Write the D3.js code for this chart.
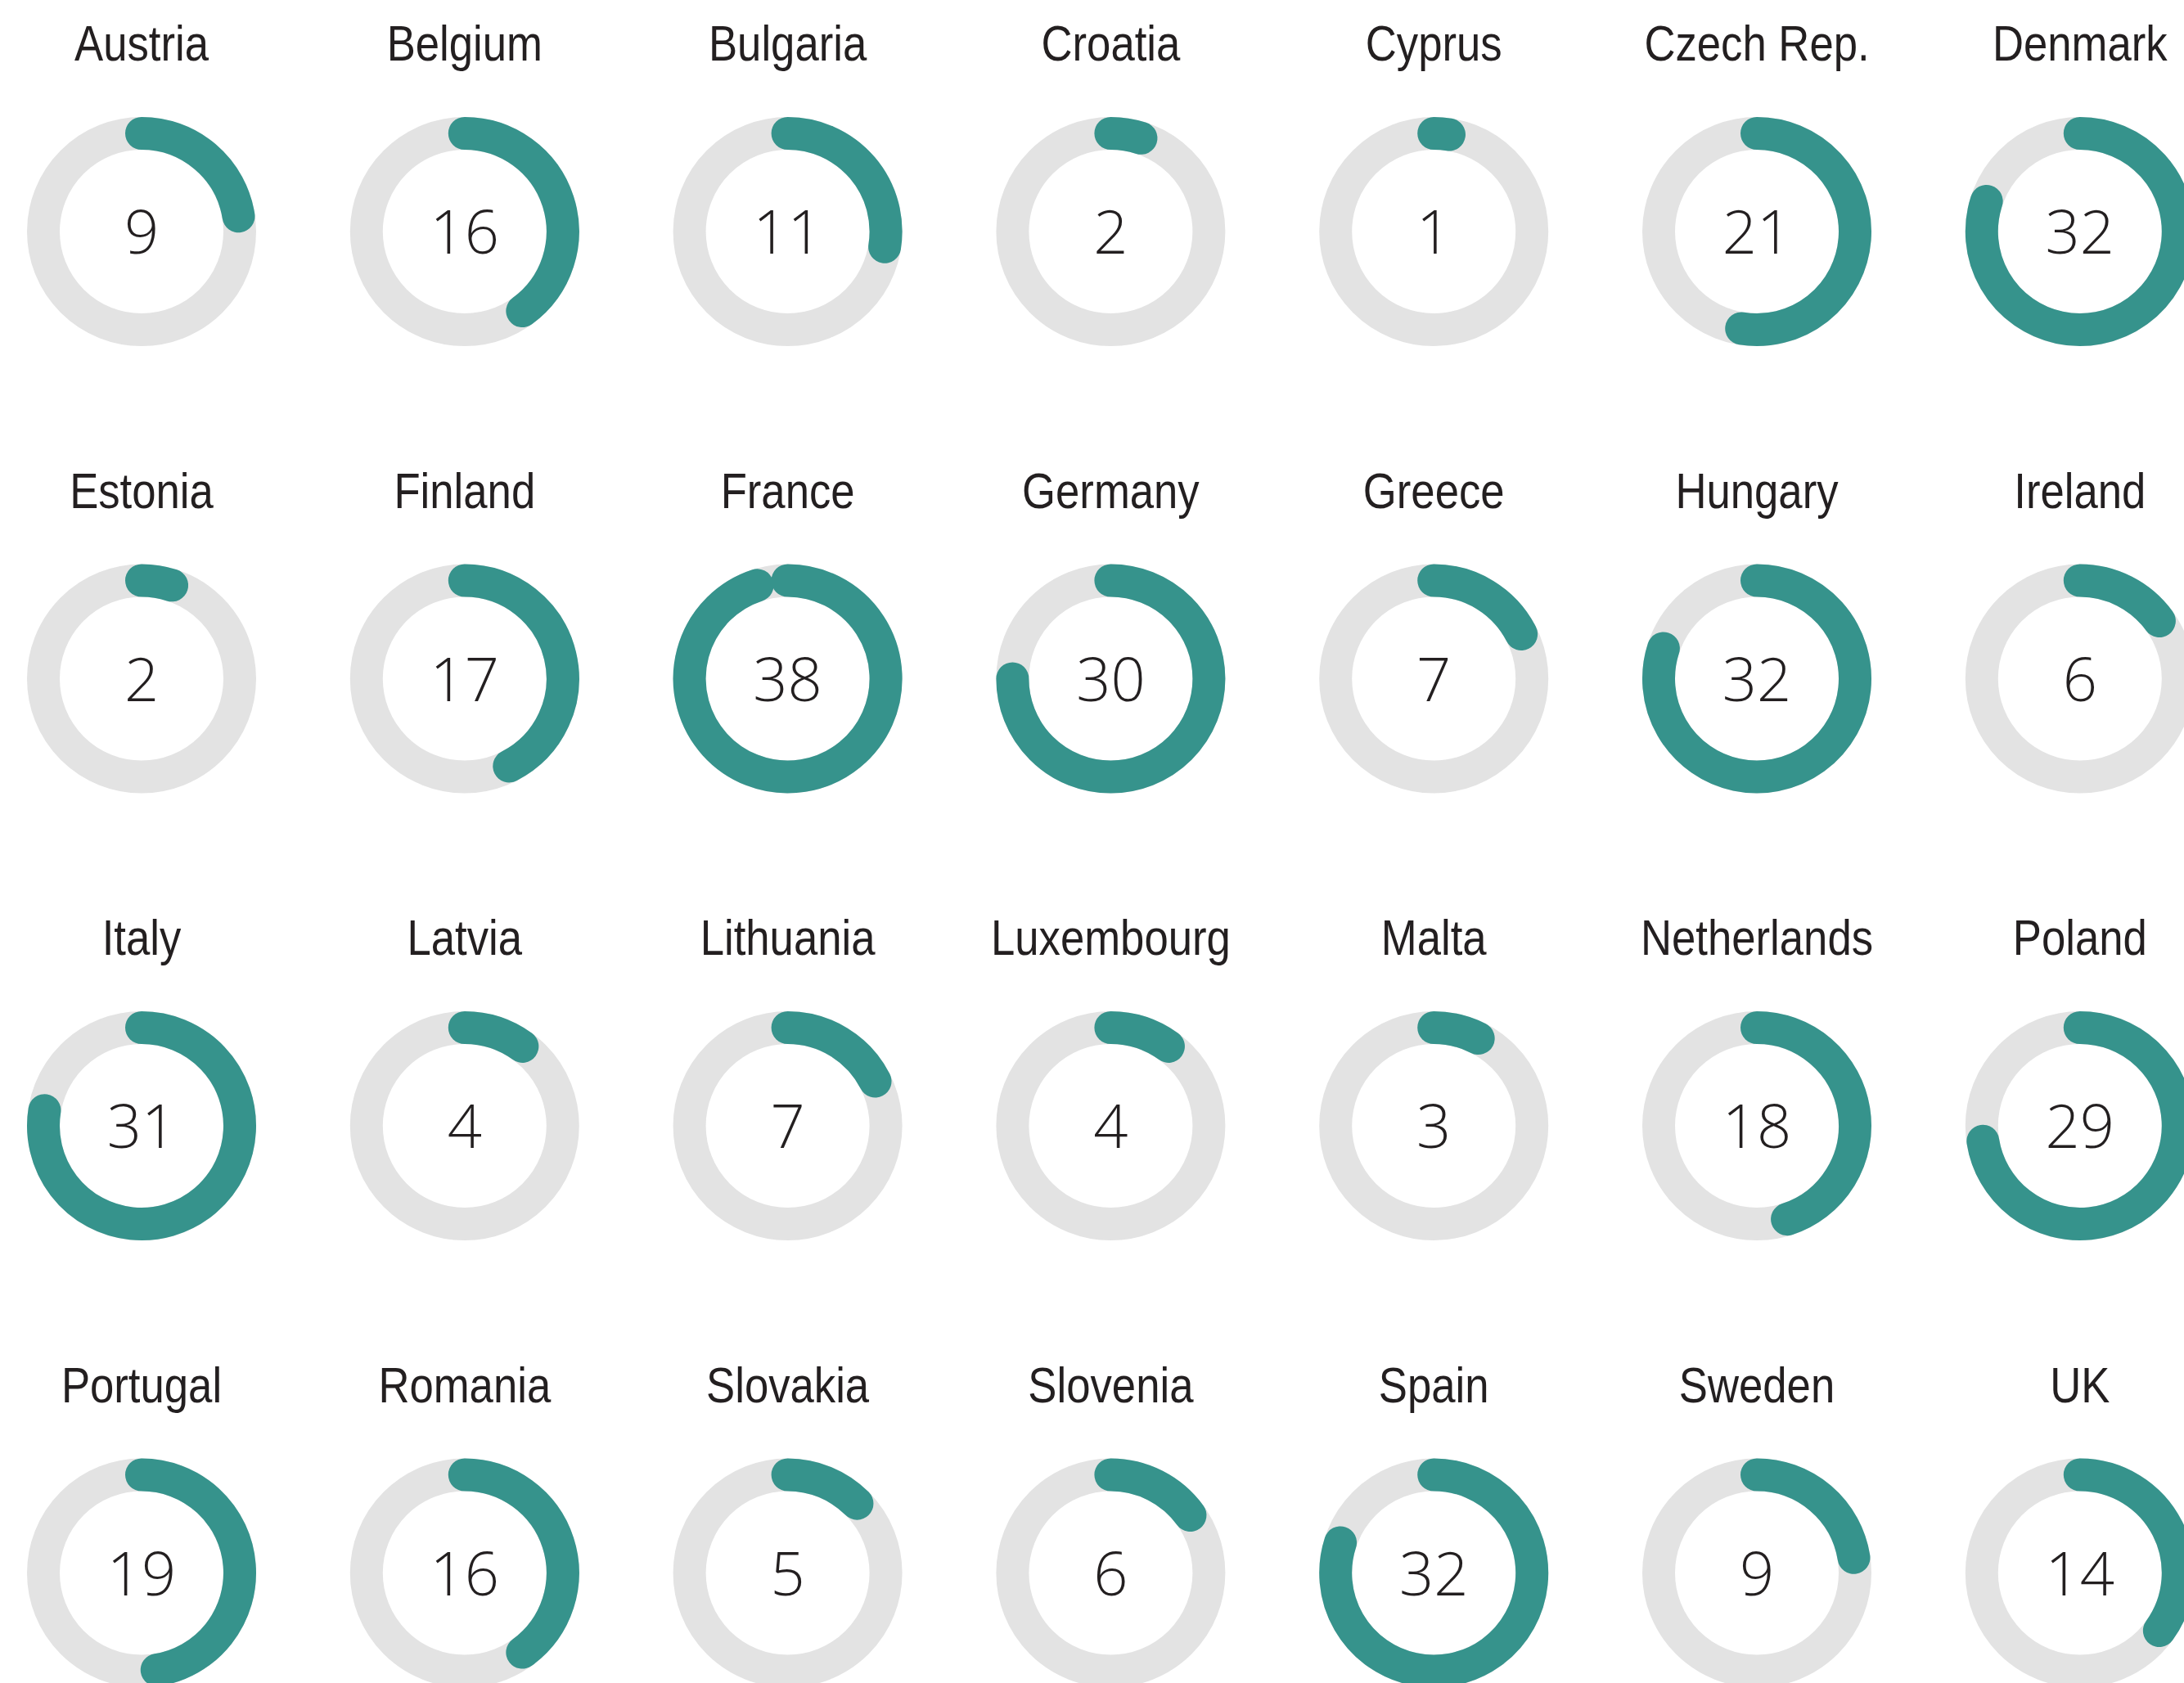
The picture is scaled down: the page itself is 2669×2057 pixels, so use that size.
<!DOCTYPE html>
<html><head><meta charset="utf-8">
<script src="https://cdn.jsdelivr.net/npm/d3@7"></script>
<style>
html,body{margin:0;padding:0;background:#fff;overflow:hidden;}
svg{display:block;}
</style></head>
<body>
<svg id="chart" width="2669" height="2057"></svg>
<script>
const countries = ["Austria","Belgium","Bulgaria","Croatia","Cyprus","Czech Rep.","Denmark",
  "Estonia","Finland","France","Germany","Greece","Hungary","Ireland",
  "Italy","Latvia","Lithuania","Luxembourg","Malta","Netherlands","Poland",
  "Portugal","Romania","Slovakia","Slovenia","Spain","Sweden","UK"];
const values = [9,16,11,2,1,21,32, 2,17,38,30,7,32,6, 31,4,7,4,3,18,29, 19,16,5,6,32,9,14];
const maxValue = 40;

const ncol = 7;
const x0 = 173, dx = 394.8, y0 = 283, dy = 546.5;
const r = 120, sw = 40;

const svg = d3.select("#chart");
const angle = d3.scaleLinear().domain([0, maxValue]).range([0, 2*Math.PI]);

const cells = svg.selectAll("g.cell").data(countries.map((c,i)=>({name:c, value:values[i], i})))
  .join("g").attr("class","cell")
  .attr("transform", d => `translate(${x0 + (d.i % ncol)*dx},${y0 + Math.floor(d.i/ncol)*dy})`);

cells.append("circle").attr("r", r).attr("fill","none")
  .attr("stroke","#e3e3e3").attr("stroke-width", sw);

cells.append("path")
  .attr("d", d => { const p = d3.path(); const a0 = -Math.PI/2;
     p.moveTo(0, -r); p.arc(0, 0, r, a0, a0 + angle(d.value)); return p.toString(); })
  .attr("fill","none").attr("stroke","#36938c").attr("stroke-width", sw)
  .attr("stroke-linecap","round");

cells.append("text").text(d => d.name)
  .attr("transform","translate(0,-209) scale(0.85,1)")
  .attr("text-anchor","middle")
  .attr("font-family","'Liberation Sans',Arial,sans-serif")
  .attr("font-size", 62).attr("fill","#231f20");

cells.append("text").text(d => d.value)
  .attr("x", 0).attr("y", 27)
  .attr("text-anchor","middle")
  .attr("font-family","'Open Sans',sans-serif").attr("font-weight",350)
  .attr("font-size", 74).attr("fill","#231f20");
</script>
</body></html>
